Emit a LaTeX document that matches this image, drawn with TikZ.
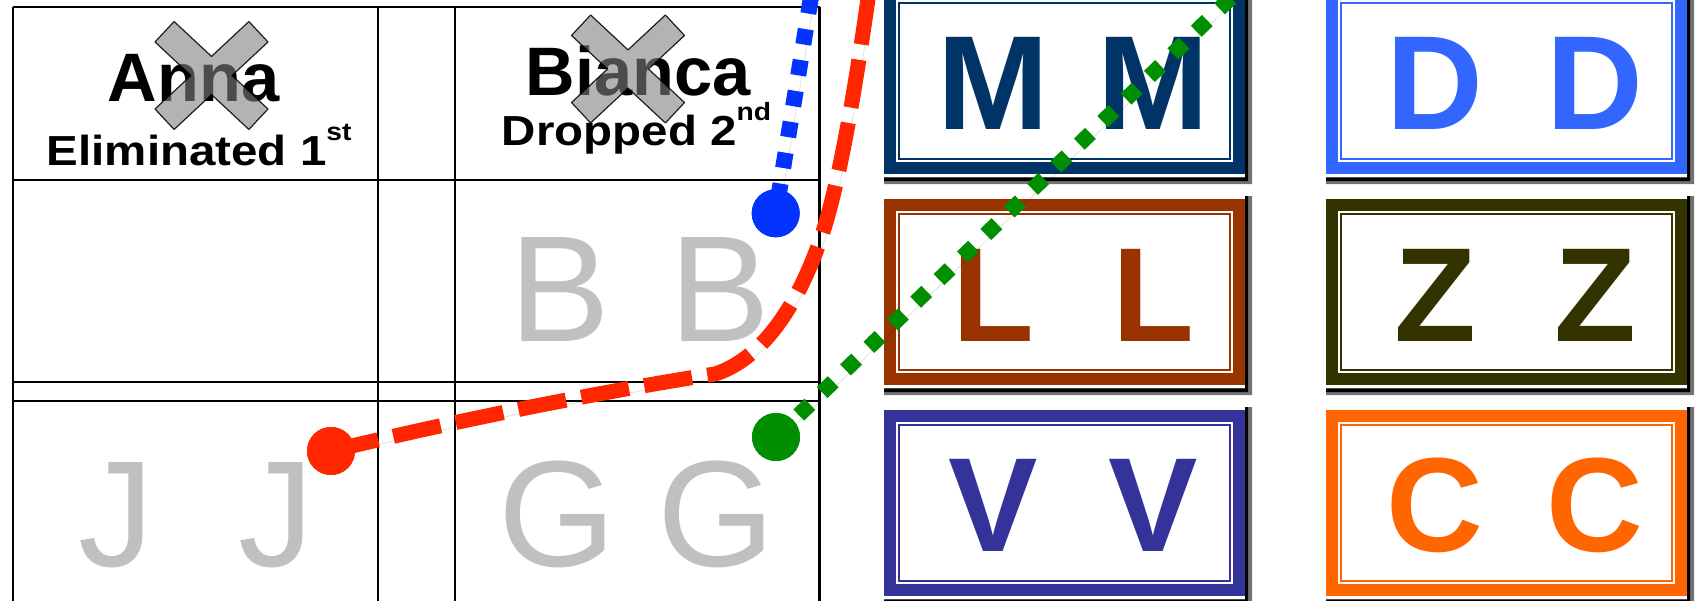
\documentclass[tikz,border=0pt]{standalone}
\usepackage{fontspec}
\setmainfont{Liberation Sans}
\usepackage{graphicx}
\usepackage{tikz}
\usepackage{xcolor}
\definecolor{mnavy}{HTML}{003366}
\definecolor{dblue}{HTML}{3366FF}
\definecolor{lbrown}{HTML}{993300}
\definecolor{zolive}{HTML}{333300}
\definecolor{vindigo}{HTML}{333399}
\definecolor{corange}{HTML}{FF6600}
\definecolor{redline}{HTML}{FF2600}
\definecolor{blueline}{HTML}{0433FF}
\definecolor{greenline}{HTML}{008F00}
\definecolor{lettergray}{HTML}{C0C0C0}

\begin{document}
\begin{tikzpicture}[x=0.5pt,y=-0.5pt,
        rule/.style={line width=1.1pt},
        namelabel/.style={font=\fontsize{34.3}{38}\selectfont\bfseries,anchor=base,inner sep=0pt},
        notelabel/.style={font=\fontsize{21}{24}\selectfont\bfseries,anchor=base,inner sep=0pt},
        crossmark/.style={fill=gray,fill opacity=.6,draw=black,draw opacity=.85,line width=.6pt,line join=round},
        grayletter/.style={font=\fontsize{75.6}{80}\selectfont,text=lettergray,anchor=base,inner sep=0pt},
        tile/.style={rectangle,draw=#1,line width=6pt,fill=white,minimum width=174.5pt,minimum height=87pt,inner sep=0pt,
            path picture={\draw[#1,line width=1pt] ([shift={(4.5pt,-4.5pt)}]path picture bounding box.north west) rectangle ([shift={(-4.5pt,4.5pt)}]path picture bounding box.south east);}},
        tileletter/.style={font=\fontsize{67}{70}\selectfont\bfseries,text=#1,anchor=base,inner sep=0pt},
        dot/.style={circle,fill=#1,minimum size=24pt,inner sep=0pt},
        linkshadow/.style={preaction={draw=black,draw opacity=.12,transform canvas={shift={(1.5pt,-2pt)}}}},
        redpath/.style={draw=redline,line width=7.5pt,dash pattern=on 24.25pt off 7.75pt,linkshadow},
        bluepath/.style={draw=blueline,line width=8pt,dash pattern=on 7.75pt off 7.9pt,dash phase=8.35pt,linkshadow},
        greenpath/.style={draw=greenline,line width=7.75pt,dash pattern=on 7.75pt off 8.5pt,dash phase=0.45pt,linkshadow},
        ]
        \useasboundingbox (0,0) rectangle (1698,600);

        % Tableau
        \draw[rule] (12.7,6.7) -- (819.5,6.7);
        \draw[rule] (12.7,180) -- (819.5,180);
        \draw[rule] (12.7,381.7) -- (819.5,381.7);
        \draw[rule] (12.7,400.7) -- (819.5,400.7);
        \foreach \cx in {12.7,378,455.3,819.5}
            \draw[rule] (\cx,6.7) -- (\cx,612);

        % En-tetes
        \node[namelabel] (anna) at (193.7,101.7) {Anna};
        \node[notelabel] (annanote) at (199.2,165) {\scalebox{1.13}[1]{Eliminated 1\raisebox{12.5pt}{\fontsize{12.5}{13}\selectfont st}}};
        \node[namelabel] (bianca) at (638,95) {Bianca};
        \node[notelabel] (biancanote) at (636.5,145) {\scalebox{1.13}[1]{Dropped 2\raisebox{12.5pt}{\fontsize{12.5}{13}\selectfont nd}}};

        % Croix
        \foreach \cx/\cy in {211.5/75.5,628/69}
            \draw[crossmark,shift={(\cx,\cy)}] (0,19.1) -- (37.4,54) -- (56.5,33.5) -- (20.5,0) -- (56.5,-33.5) -- (37.4,-54)
                -- (0,-19.1) -- (-37.4,-54) -- (-56.5,-33.5) -- (-20.5,0) -- (-56.5,33.5) -- (-37.4,54) -- cycle;

        % Lettres grises
        \foreach \ch/\ax/\bx/\by in {B/560/720/341.5,J/116/276.6/566.5,G/557.5/716/566.5}{
            \node[grayletter] (\ch1) at (\ax,\by) {\ch};
            \node[grayletter] (\ch2) at (\bx,\by) {\ch};
        }

        % Cartes
        \node[tile=mnavy] (mtile) at (1064.5,81) {};
        \node[tile=dblue] (dtile) at (1506.5,81) {};
        \node[tile=lbrown] (ltile) at (1064.5,292) {};
        \node[tile=zolive] (ztile) at (1506.5,292) {};
        \node[tile=vindigo] (vtile) at (1064.5,503) {};
        \node[tile=corange] (ctile) at (1506.5,503) {};
        \foreach \t in {mtile,dtile,ltile,ztile,vtile,ctile}{
            \fill[black!55] ([yshift=1.5pt]\t.north east) -- ++(3.5pt,0pt) |- ([yshift=-5pt]\t.south west) |- ([yshift=-1.5pt]\t.south east) -- cycle;
            \fill[black] ([yshift=1.5pt]\t.north east) -- ++(1.5pt,0pt) |- ([yshift=-3.5pt]\t.south west) |- ([yshift=-1.75pt]\t.south east) -- cycle;
        }
        \foreach \ch/\col/\cx/\by in {M/mnavy/993.5/129.5,D/dblue/1435/129.5,L/lbrown/993.5/341,Z/zolive/1435/341,V/vindigo/993.5/551.5,C/corange/1435/551.5}{
            \node[tileletter=\col] (\ch1) at (\cx,\by) {\ch};
            \node[tileletter=\col] (\ch2) at (\cx+160,\by) {\ch};
        }

        % Trajets
        \node[dot=redline] (rdot) at (331,451) {};
        \node[dot=blueline] (bdot) at (775.7,213.3) {};
        \node[dot=greenline] (gdot) at (776,437) {};
        \coordinate (rend) at (869,-8);
        \coordinate (bend) at (812.5,-12);
        \coordinate (gend) at (1241,-12);
        \draw[redpath] (rdot.center) .. controls (500,410) and (650,384) .. (715,374)
            .. controls (765,358) and (800,300) .. (822,235) .. controls (840,180) and (855,90) .. (rend);
        \draw[bluepath] (bdot.center) -- (bend);
        \draw[greenpath] (gdot.center) -- (gend);
        \node[dot=redline] at (rdot) {};
        \node[dot=blueline] at (bdot) {};
        \node[dot=greenline] at (gdot) {};
\end{tikzpicture}
\end{document}
